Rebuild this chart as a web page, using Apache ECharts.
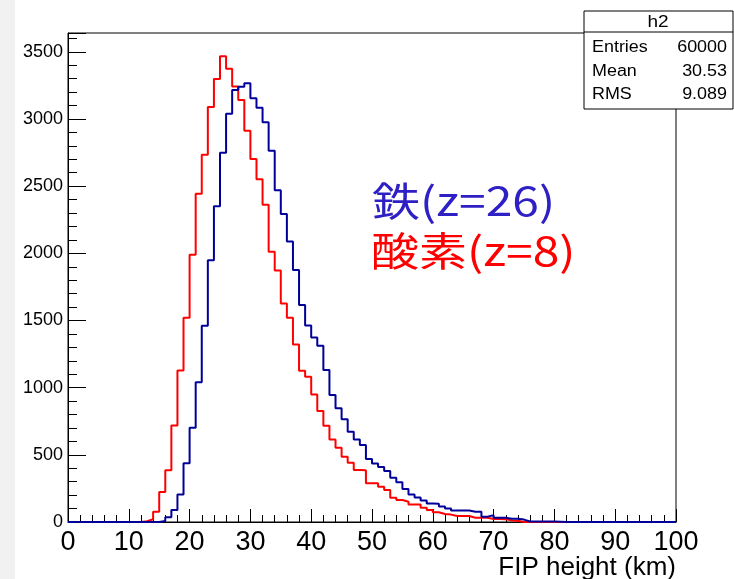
<!DOCTYPE html>
<html>
<head>
<meta charset="utf-8">
<title>FIP height</title>
<script src="https://cdn.jsdelivr.net/npm/echarts@6/dist/echarts.min.js"></script>
<style>
  html, body { margin: 0; padding: 0; background: #fff; }
  #main { width: 734px; height: 579px; }
</style>
</head>
<body>
<div id="main"></div>
<script>
// ビン: 0〜100 km を 1 km 幅で 100 本
const binStart = 0;
const binWidth = 1;

// 鉄(z=26) 各ビンのカウント
const ironCounts = [
  0, 0, 0, 0, 0, 0, 0, 0, 0, 0,
  0, 0, 0, 0, 0, 8, 35, 89, 204, 437,
  702, 1040, 1460, 1949, 2351, 2748, 3038, 3216, 3239, 3266,
  3155, 3083, 2975, 2764, 2470, 2292, 2088, 1875, 1615, 1462,
  1374, 1312, 1131, 945, 846, 764, 672, 615, 573, 469,
  435, 409, 380, 330, 295, 245, 204, 182, 160, 138,
  135, 116, 100, 85, 85, 85, 77, 77, 40, 50,
  32, 32, 25, 25, 18, 4, 4, 3, 3, 3,
  2, 0, 0, 0, 0, 0, 0, 0, 0, 0,
  0, 0, 0, 0, 0, 0, 0, 0, 0, 0
];

// 酸素(z=8) 各ビンのカウント
const oxygenCounts = [
  0, 0, 0, 0, 0, 0, 0, 0, 0, 0,
  0, 0, 6, 20, 76, 224, 386, 718, 1128, 1521,
  1990, 2443, 2733, 3090, 3298, 3467, 3373, 3241, 3142, 2913,
  2702, 2551, 2361, 2011, 1872, 1627, 1520, 1322, 1126, 1081,
  950, 826, 717, 615, 553, 486, 441, 387, 385, 288,
  288, 263, 238, 181, 164, 151, 131, 131, 107, 89,
  72, 60, 55, 45, 45, 45, 32, 32, 32, 22,
  22, 20, 12, 10, 0, 0, 0, 0, 0, 0,
  0, 0, 0, 0, 0, 0, 0, 0, 0, 0,
  0, 0, 0, 0, 0, 0, 0, 0, 0, 0
];

// 統計ボックス (h2)
const statNames = ['Entries', 'Mean', 'RMS'];
const statValues = ['60000', '30.53', '9.089'];

const yMax = 3640;
const font = '"Liberation Sans", Arial, sans-serif';

// ヒストグラムの階段: 各ビンの左端 + 最後の右端
function toSteps(counts) {
  const pts = counts.map((c, i) => [binStart + i * binWidth, c]);
  pts.push([binStart + counts.length * binWidth, counts[counts.length - 1]]);
  return pts;
}

const statRows = [];
statNames.forEach((name, i) => {
  const y = 48 + i * 23.5;
  statRows.push({
    type: 'text', x: 592, y: y, scaleX: 1.12, z: 101,
    style: { text: name, fill: '#000', font: '16px ' + font,
      align: 'left', verticalAlign: 'middle', textAlign: 'left', textVerticalAlign: 'middle' }
  });
  statRows.push({
    type: 'text', x: 727, y: y, scaleX: 1.12, z: 101,
    style: { text: statValues[i], fill: '#000', font: '16px ' + font,
      align: 'right', verticalAlign: 'middle', textAlign: 'right', textVerticalAlign: 'middle' }
  });
});

const myChart = echarts.init(document.getElementById('main'));

myChart.setOption({
  animation: false,
  backgroundColor: '#fff',
  grid: {
    left: 68, right: 58, top: 33, bottom: 57,
    show: true, borderColor: '#000', borderWidth: 1,
    containLabel: false,
    outerBoundsMode: 'none'
  },
  xAxis: {
    type: 'value', min: 0, max: 100, interval: 10,
    name: 'FIP height (km)', nameLocation: 'end', nameGap: 0,
    nameMoveOverlap: false,
    nameTextStyle: {
      fontSize: 26, fontFamily: font, color: '#000',
      align: 'right', verticalAlign: 'top', padding: [33, 0, 0, 0]
    },
    axisLine: { show: true, lineStyle: { color: '#000', width: 1 } },
    axisTick: { show: true, inside: true, length: 13, lineStyle: { color: '#000' } },
    minorTick: { show: true, splitNumber: 5, length: 7, lineStyle: { color: '#000' } },
    axisLabel: { fontSize: 27, fontFamily: font, color: '#000', margin: 7 },
    splitLine: { show: false }
  },
  yAxis: [
    {
      type: 'value', min: 0, max: yMax, interval: 500, position: 'left',
      axisLine: { show: true, lineStyle: { color: '#000', width: 1 } },
      axisTick: { show: true, inside: true, length: 18, lineStyle: { color: '#000' } },
      axisLabel: {
        fontSize: 18, fontFamily: font, color: '#000', margin: 5,
        formatter: v => (v % 500 === 0 ? String(v) : '')
      },
      splitLine: { show: false }
    },
    {
      type: 'value', min: 0, max: yMax, interval: 100, position: 'left',
      axisLine: { show: false },
      axisTick: { show: true, inside: true, length: 9, lineStyle: { color: '#000' } },
      axisLabel: { show: false },
      splitLine: { show: false }
    }
  ],
  series: [
    {
      name: '酸素(z=8)', type: 'line', step: 'end',
      data: toSteps(oxygenCounts),
      showSymbol: false, symbol: 'none',
      lineStyle: { color: '#ff0000', width: 2 },
      itemStyle: { color: '#ff0000' }
    },
    {
      name: '鉄(z=26)', type: 'line', step: 'end',
      data: toSteps(ironCounts),
      showSymbol: false, symbol: 'none',
      lineStyle: { color: '#000099', width: 2 },
      itemStyle: { color: '#000099' }
    }
  ],
  graphic: [
    {
      type: 'rect', left: 0, top: 0, z: -10, silent: true,
      shape: { width: 15, height: 579 },
      style: { fill: '#f1f1f1' }
    },
    {
      type: 'text', x: 372, y: 201, scaleX: 1.2, z: 100,
      style: { text: '鉄(z=26)', fill: '#2e20c4', font: '40px "Noto Sans CJK JP"',
        align: 'left', verticalAlign: 'middle', textAlign: 'left', textVerticalAlign: 'middle' }
    },
    {
      type: 'text', x: 371, y: 251, scaleX: 1.2, z: 100,
      style: { text: '酸素(z=8)', fill: '#ff0000', font: '40px "Noto Sans CJK JP"',
        align: 'left', verticalAlign: 'middle', textAlign: 'left', textVerticalAlign: 'middle' }
    },
    {
      type: 'rect', x: 584, y: 11, z: 100,
      shape: { width: 149, height: 98 },
      style: { fill: '#fff', stroke: '#000', lineWidth: 1 }
    },
    {
      type: 'line', z: 101,
      shape: { x1: 584, y1: 32, x2: 733, y2: 32 },
      style: { stroke: '#000', lineWidth: 1 }
    },
    {
      type: 'text', x: 658, y: 22, scaleX: 1.12, z: 101,
      style: { text: 'h2', fill: '#000', font: '17px ' + font,
        align: 'center', verticalAlign: 'middle', textAlign: 'center', textVerticalAlign: 'middle' }
    }
  ].concat(statRows)
});
</script>
</body>
</html>
